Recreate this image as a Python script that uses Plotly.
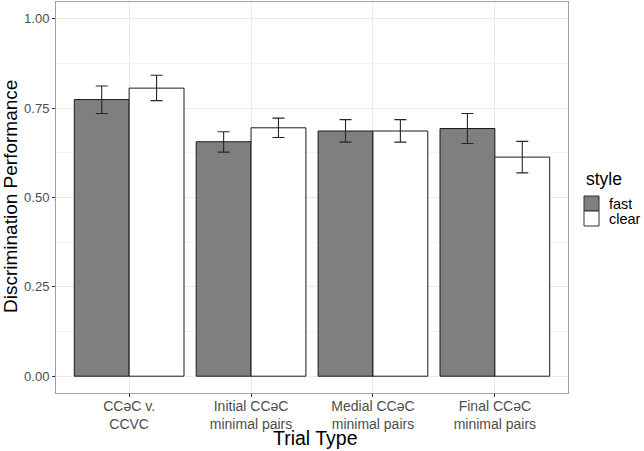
import plotly.graph_objects as go

categories = ["CCəC v.<br>CCVC", "Initial CCəC<br>minimal pairs",
              "Medial CCəC<br>minimal pairs", "Final CCəC<br>minimal pairs"]
fast_mean = [0.774, 0.656, 0.686, 0.693]
fast_low = [0.735, 0.627, 0.655, 0.651]
fast_high = [0.812, 0.684, 0.718, 0.735]
clear_mean = [0.806, 0.695, 0.686, 0.613]
clear_low = [0.771, 0.668, 0.655, 0.569]
clear_high = [0.842, 0.722, 0.718, 0.657]
y_ticks = [0.0, 0.25, 0.5, 0.75, 1.0]
y_tick_labels = ["0.00", "0.25", "0.50", "0.75", "1.00"]
series_names = ["fast", "clear"]
series_colors = ["#7F7F7F", "#FFFFFF"]

FONT = "Liberation Sans, Arial, sans-serif"
W, H = 644, 451
L, R, T, B = 56, 76, 2, 58
PW, PH = W - L - R, H - T - B


def px_x(px):
    return (px - L) / PW


def px_y(py):
    return (H - B - py) / PH


fig = go.Figure()
for name, mean, low, high, color in [
    (series_names[0], fast_mean, fast_low, fast_high, series_colors[0]),
    (series_names[1], clear_mean, clear_low, clear_high, series_colors[1]),
]:
    fig.add_trace(go.Bar(
        name=name, x=categories, y=mean, showlegend=False,
        marker=dict(color=color, line=dict(color="#1A1A1A", width=1)),
        error_y=dict(type="data", symmetric=False,
                     array=[h - m for h, m in zip(high, mean)],
                     arrayminus=[m - l for m, l in zip(mean, low)],
                     color="#262626", thickness=1.1, width=6),
    ))

# manual legend (ggplot style: keys stacked, touching)
shapes = []
annotations = []
annotations.append(dict(text="style", x=px_x(584), y=px_y(179), xref="paper", yref="paper",
                        xanchor="left", yanchor="middle", showarrow=False,
                        font=dict(size=17.5, color="black", family=FONT)))
key_top = 196
for i, (name, color) in enumerate(zip(series_names, series_colors)):
    y0 = key_top + 15 * i
    shapes.append(dict(type="rect", xref="paper", yref="paper",
                       x0=px_x(584), x1=px_x(599), y0=px_y(y0), y1=px_y(y0 + 15),
                       fillcolor=color, line=dict(color="#333333", width=1)))
    annotations.append(dict(text=name, x=px_x(608), y=px_y(y0 + 7.5), xref="paper", yref="paper",
                            xanchor="left", yanchor="middle", showarrow=False,
                            height=15, borderpad=0, valign="middle",
                            font=dict(size=14.5, color="black", family=FONT)))

# axis titles
annotations.append(dict(text="Trial Type", x=px_x(315), y=px_y(438), xref="paper", yref="paper",
                        xanchor="center", yanchor="middle", showarrow=False,
                        font=dict(size=19.5, color="black", family=FONT)))
annotations.append(dict(text="Discrimination Performance", x=px_x(10), y=px_y(197), xref="paper",
                        yref="paper", xanchor="center", yanchor="middle", showarrow=False,
                        textangle=-90, font=dict(size=19, color="black", family=FONT)))

fig.update_layout(
    width=W, height=H,
    margin=dict(l=L, r=R, t=T, b=B, autoexpand=False),
    paper_bgcolor="white", plot_bgcolor="white",
    barmode="group", bargap=0.1, bargroupgap=0,
    font=dict(family=FONT, color="#4D4D4D", size=14),
    showlegend=False,
    shapes=shapes, annotations=annotations,
    xaxis=dict(
        range=[-0.6, 3.6], automargin=False,
        showgrid=True, gridcolor="#EBEBEB", gridwidth=1,
        ticks="outside", ticklen=3, tickcolor="#333333",
        tickfont=dict(size=14, color="#4D4D4D"),
        ticklabelstandoff=-3,
        showline=True, linecolor="#A0A0A0", mirror=True, linewidth=1,
        zeroline=False,
    ),
    yaxis=dict(
        range=[-0.047, 1.047], automargin=False,
        tickvals=y_ticks, ticktext=y_tick_labels,
        showgrid=True, gridcolor="#EBEBEB", gridwidth=1,
        minor=dict(dtick=0.125, showgrid=True, gridcolor="#F4F4F4", gridwidth=1),
        ticks="outside", ticklen=3, tickcolor="#333333",
        tickfont=dict(size=13, color="#4D4D4D"),
        showline=True, linecolor="#A0A0A0", mirror=True, linewidth=1,
        zeroline=False,
    ),
)

fig.write_html("out.html", config={"displayModeBar": False},
               post_script="document.body.style.margin='0px';document.body.style.overflow='hidden';")
